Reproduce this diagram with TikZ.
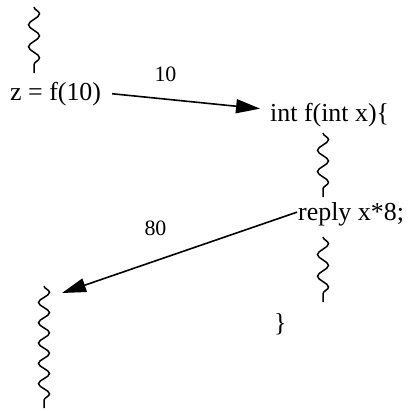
\documentclass[tikz,border=0pt]{standalone}
\usepackage{fontspec}
\setmainfont{Liberation Serif}
\usetikzlibrary{arrows.meta,decorations.pathmorphing}
\begin{document}
\begin{tikzpicture}[x=1bp,y=-1bp,
  txt/.style={inner sep=0pt,font=\fontsize{26}{30}\selectfont},
  lbl/.style={inner sep=0pt,font=\fontsize{22}{26}\selectfont},
  squig/.style={line width=1.5bp,decorate,decoration={snake,amplitude=5.5bp,segment length=#1}},
  msg/.style={line width=1.6bp,-{Triangle[length=24bp,width=14bp]}}]
\useasboundingbox (0,0) rectangle (410,411);
\node[txt,anchor=base west] (zf) at (10,100) {z = f(10)};
\node[txt,anchor=base west] (intf) at (270,121) {int f(int x)\{};
\node[txt,anchor=base west] (reply) at (298,220) {reply x*8;};
\node[txt,anchor=base west] (close) at (274,331) {\}};
\node[lbl] (l10) at (165.5,74) {10};
\node[lbl] (l80) at (155.5,228) {80};
\coordinate (s1a) at (34,7); \coordinate (s1b) at (34,73);
\coordinate (s2a) at (323,133); \coordinate (s2b) at (323,197);
\coordinate (s3a) at (323,237); \coordinate (s3b) at (323,302);
\coordinate (s4a) at (44,286); \coordinate (s4b) at (44,408);
\coordinate (ret) at (62,293);
\draw[squig=21.95bp] (s1a) -- (s1b);
\draw[squig=21.3bp] (s2a) -- (s2b);
\draw[squig=21.63bp] (s3a) -- (s3b);
\draw[squig=20.3bp] (s4a) -- (s4b);
\draw[msg,shorten <=11bp,shorten >=10bp] ([yshift=1bp]zf.east) -- ([yshift=5bp]intf.west);
\draw[msg,shorten <=1bp] ([yshift=2bp]reply.west) -- (ret);
\end{tikzpicture}
\end{document}
